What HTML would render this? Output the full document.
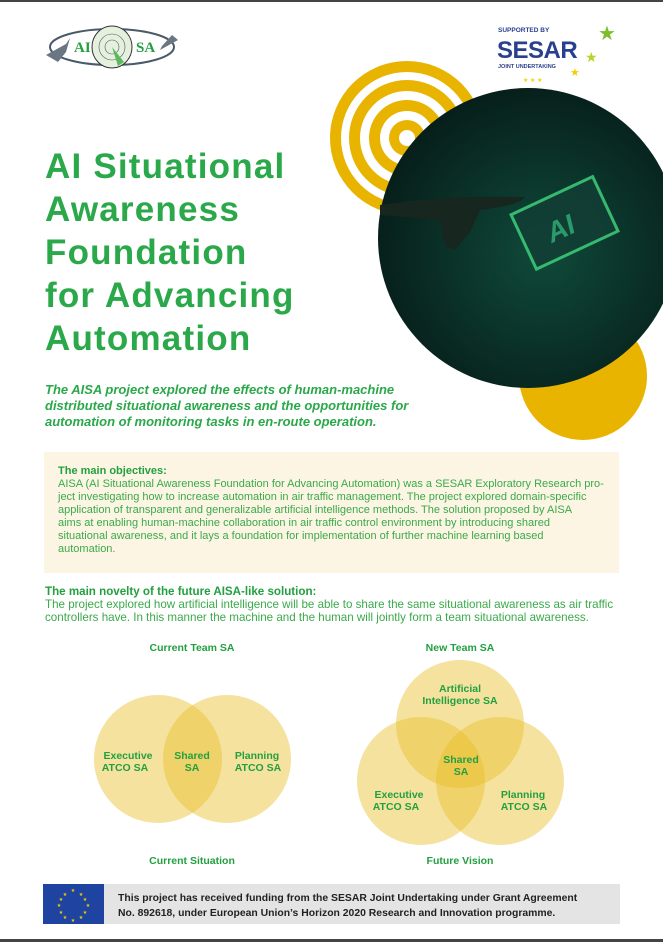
<!DOCTYPE html>
<html><head><meta charset="utf-8"><style>
*{margin:0;padding:0;box-sizing:border-box}
body{width:663px;height:942px;position:relative;background:#fff;font-family:"Liberation Sans",sans-serif;overflow:hidden}
.abs{position:absolute}
.title{left:45px;top:145px;color:#2aa84a;font-weight:bold;font-size:35px;line-height:43px;letter-spacing:1.2px}
.sub{left:45px;top:382px;width:390px;color:#2aa84a;font-weight:bold;font-style:italic;font-size:13px;line-height:16px}
.box{left:44px;top:452px;width:575px;height:121px;background:#fcf5e3}
.txt{color:#3aaa4a;font-size:11px;line-height:13px;white-space:nowrap}
.h{font-weight:bold;color:#22a040}
</style></head><body>
<div class="abs" style="left:0;top:0;width:663px;height:2px;background:#444"></div>
<div class="abs" style="left:0;top:939px;width:663px;height:3px;background:#444"></div>

<svg class="abs" style="left:0;top:0" width="663" height="942">
 <ellipse cx="112" cy="47" rx="62" ry="18" fill="none" stroke="#4a5a6a" stroke-width="2"/>
 <ellipse cx="112" cy="47" rx="20" ry="21" fill="#e6f0df" stroke="#333" stroke-width="1"/>
 <circle cx="112" cy="47" r="13" fill="none" stroke="#555" stroke-width="0.6"/>
 <circle cx="112" cy="47" r="7" fill="none" stroke="#555" stroke-width="0.6"/>
 <path d="M112 47 L118 66 L124 62Z" fill="#5cb85c"/>
 <path d="M46 55 L66 44 L70 38 L66 52 L58 62Z" fill="#6a7684"/>
 <path d="M178 40 L160 50 L156 58 L162 46 L172 35Z" fill="#6a7684"/>
 <text x="74" y="52" font-family="Liberation Serif" font-weight="bold" font-size="15" fill="#22a040">AI</text>
 <text x="136" y="52" font-family="Liberation Serif" font-weight="bold" font-size="15" fill="#22a040">SA</text>
 <text x="498" y="32" font-size="6.5" font-weight="bold" fill="#2a3f8f">SUPPORTED BY</text>
 <text x="497" y="58" font-size="24" font-weight="bold" fill="#2a3f8f" letter-spacing="-0.5">SESAR</text>
 <text x="498" y="68" font-size="5.5" font-weight="bold" fill="#2a3f8f">JOINT UNDERTAKING</text>
 <text x="598" y="40" font-size="20" fill="#7cbf2a">★</text>
 <text x="585" y="62" font-size="14" fill="#b7d42a">★</text>
 <text x="570" y="76" font-size="11" fill="#f4d000">★</text>
 <text x="523" y="82" font-size="6" fill="#f4d000">★ ★ ★</text>
 <circle cx="407" cy="138" r="77" fill="#e8b400"/>
 <circle cx="407" cy="138" r="66" fill="#fff"/>
 <circle cx="407" cy="138" r="58" fill="#e8b400"/>
 <circle cx="407" cy="138" r="47" fill="#fff"/>
 <circle cx="407" cy="138" r="38" fill="#e8b400"/>
 <circle cx="407" cy="138" r="27" fill="#fff"/>
 <circle cx="407" cy="138" r="18" fill="#e8b400"/>
 <circle cx="407" cy="138" r="8" fill="#fff"/>
 <circle cx="583" cy="376" r="64" fill="#e8b400"/>
 <defs><radialGradient id="g" cx="0.55" cy="0.55" r="0.6"><stop offset="0" stop-color="#0f4a3a"/><stop offset="1" stop-color="#061c18"/></radialGradient></defs>
 <circle cx="528" cy="238" r="150" fill="url(#g)"/>
 <path d="M380 205 Q450 195 525 197 Q520 205 480 210 L470 232 L455 250 L445 246 L440 220 L380 215Z" fill="#17261f"/>
 <g transform="rotate(-25 560 225)"><rect x="520" y="195" width="90" height="60" fill="#123e35" stroke="#3fcf7a" stroke-width="3" opacity="0.85"/>
 <text x="545" y="238" font-size="28" font-weight="bold" font-style="italic" fill="#2a9a6a">AI</text></g>
 <g fill="rgb(233,190,40)" fill-opacity="0.45">
  <circle cx="158" cy="759" r="64"/><circle cx="227" cy="759" r="64"/>
  <circle cx="460" cy="724" r="64"/><circle cx="421" cy="781" r="64"/><circle cx="500" cy="781" r="64"/>
 </g>
 <g font-weight="bold" font-size="10.5" fill="#22a040" text-anchor="middle">
  <text x="192" y="651">Current Team SA</text>
  <text x="460" y="651">New Team SA</text>
  <text x="192" y="864">Current Situation</text>
  <text x="460" y="864">Future Vision</text>
  <text x="128" y="759">Executive</text><text x="125" y="771">ATCO SA</text>
  <text x="192" y="759">Shared</text><text x="192" y="771">SA</text>
  <text x="257" y="759">Planning</text><text x="258" y="771">ATCO SA</text>
  <text x="460" y="692">Artificial</text><text x="460" y="704">Intelligence SA</text>
  <text x="461" y="763">Shared</text><text x="461" y="775">SA</text>
  <text x="399" y="798">Executive</text><text x="396" y="810">ATCO SA</text>
  <text x="523" y="798">Planning</text><text x="524" y="810">ATCO SA</text>
 </g>
 <rect x="43" y="884" width="577" height="40" fill="#e4e4e4"/>
 <rect x="43" y="884" width="61" height="40" fill="#1f43a0"/>
 <g fill="#f4d000" font-size="5" text-anchor="middle">
  <text x="73" y="892">★</text><text x="73" y="922">★</text><text x="59" y="907">★</text><text x="88" y="907">★</text>
  <text x="65" y="896">★</text><text x="81" y="896">★</text><text x="65" y="919">★</text><text x="81" y="919">★</text>
  <text x="61" y="901">★</text><text x="85" y="901">★</text><text x="61" y="914">★</text><text x="85" y="914">★</text>
 </g>
 <text x="118" y="901" font-size="10.4" font-weight="bold" fill="#222">This project has received funding from the SESAR Joint Undertaking under Grant Agreement</text>
 <text x="118" y="916" font-size="10.4" font-weight="bold" fill="#222">No. 892618, under European Union’s Horizon 2020 Research and Innovation programme.</text>
</svg>

<div class="abs title">AI Situational<br>Awareness<br>Foundation<br>for Advancing<br>Automation</div>
<div class="abs sub">The AISA project explored the effects of human-machine distributed situational awareness and the opportunities for automation of monitoring tasks in en-route operation.</div>
<div class="abs box"></div>
<div class="abs txt" style="left:58px;top:465px;"><span class="h">The main objectives:</span><br>AISA (AI Situational Awareness Foundation for Advancing Automation) was a SESAR Exploratory Research pro-<br>ject investigating how to increase automation in air traffic management. The project explored domain-specific<br>application of transparent and generalizable artificial intelligence methods. The solution proposed by AISA<br>aims at enabling human-machine collaboration in air traffic control environment by introducing shared<br>situational awareness, and it lays a foundation for implementation of further machine learning based<br>automation.</div>
<div class="abs txt" style="left:45px;top:585px;font-size:11.6px"><span class="h">The main novelty of the future AISA-like solution:</span><br>The project explored how artificial intelligence will be able to share the same situational awareness as air traffic<br>controllers have. In this manner the machine and the human will jointly form a team situational awareness.</div>
</body></html>
